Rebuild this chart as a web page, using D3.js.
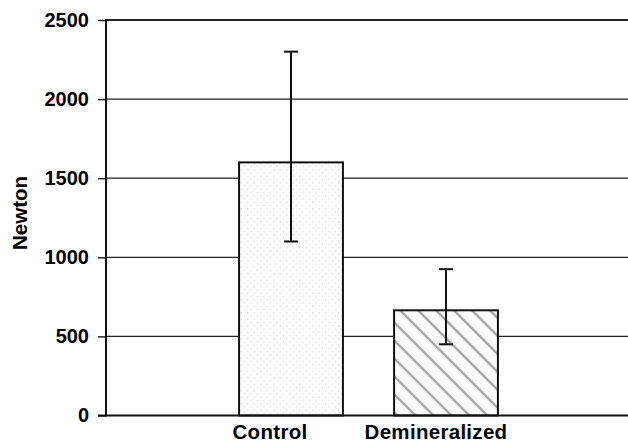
<!DOCTYPE html>
<html>
<head>
<meta charset="utf-8">
<script src="https://cdn.jsdelivr.net/npm/d3@7"></script>
<style>
  body { margin: 0; background: #fff; }
  text { font-family: "Liberation Sans", Arial, sans-serif; font-weight: bold; }
</style>
</head>
<body>
<svg id="chart"></svg>
<script>
var categories = ["Control", "Demineralized"];
var means = [1600, 665];
var errLow = [1100, 450];
var errHigh = [2300, 925];
var yTicks = [0, 500, 1000, 1500, 2000, 2500];
var labelShift = [-21, -10];

var width = 628, height = 444;
var svg = d3.select("#chart").attr("width", width).attr("height", height);

var plotLeft = 106, plotRight = 628, plotTop = 20, plotBottom = 415.5;

var y = d3.scaleLinear().domain([0, 2500]).range([plotBottom, plotTop]);
var x = d3.scaleBand()
    .domain(categories)
    .range([213.5, 523.5])
    .paddingInner(0.33)
    .paddingOuter(0.165);

var defs = svg.append("defs");
var dots = defs.append("pattern")
    .attr("id", "dots")
    .attr("patternUnits", "userSpaceOnUse")
    .attr("width", 6.5).attr("height", 6.5);
dots.append("rect").attr("width", 6.5).attr("height", 6.5).attr("fill", "#fff");
dots.append("rect").attr("x", 0).attr("y", 0).attr("width", 1.5).attr("height", 1.5).attr("fill", "#dcdcdc");
dots.append("rect").attr("x", 3.25).attr("y", 3.25).attr("width", 1.5).attr("height", 1.5).attr("fill", "#dcdcdc");

var hatch = defs.append("pattern")
    .attr("id", "hatch")
    .attr("patternUnits", "userSpaceOnUse")
    .attr("width", 12.7).attr("height", 12.7)
    .attr("patternTransform", "rotate(45)");
hatch.append("rect").attr("width", 12.7).attr("height", 12.7).attr("fill", "#fbfbfb");
hatch.append("line").attr("x1", 0).attr("y1", 0).attr("x2", 12.7).attr("y2", 0)
    .attr("stroke", "#a4a4a4").attr("stroke-width", 2.4);
hatch.append("line").attr("x1", 0).attr("y1", 12.7).attr("x2", 12.7).attr("y2", 12.7)
    .attr("stroke", "#a4a4a4").attr("stroke-width", 2.4);

var fills = ["url(#dots)", "url(#hatch)"];

// gridlines
svg.append("g").selectAll("line")
  .data(yTicks.filter(function(d) { return d > 0; }))
  .enter().append("line")
    .attr("x1", plotLeft).attr("x2", plotRight)
    .attr("y1", function(d) { return y(d); })
    .attr("y2", function(d) { return y(d); })
    .attr("stroke", "#222")
    .attr("stroke-width", function(d) { return d === 2500 ? 2 : 1.3; });

// y axis
var yAxis = d3.axisLeft(y).tickValues(yTicks).tickFormat(d3.format("d")).tickSize(8).tickPadding(9);
var ga = svg.append("g").attr("transform", "translate(" + plotLeft + ",0)").call(yAxis);
ga.select(".domain").remove();
ga.selectAll(".tick line").attr("stroke", "#222").attr("stroke-width", 1.5);
ga.selectAll(".tick text").attr("font-size", 20).attr("fill", "#000")
  .attr("font-family", "Liberation Sans, Arial, sans-serif").attr("font-weight", "bold");
svg.append("line")
    .attr("x1", plotLeft).attr("x2", plotLeft)
    .attr("y1", plotTop - 1).attr("y2", plotBottom + 1)
    .attr("stroke", "#111").attr("stroke-width", 2);

// bars
svg.append("g").selectAll("rect")
  .data(categories)
  .enter().append("rect")
    .attr("x", function(d) { return x(d); })
    .attr("width", x.bandwidth())
    .attr("y", function(d, i) { return y(means[i]); })
    .attr("height", function(d, i) { return y(0) - y(means[i]); })
    .attr("fill", function(d, i) { return fills[i]; })
    .attr("stroke", "#111")
    .attr("stroke-width", 2);

// baseline
svg.append("line")
    .attr("x1", plotLeft - 8).attr("x2", plotRight)
    .attr("y1", plotBottom).attr("y2", plotBottom)
    .attr("stroke", "#111").attr("stroke-width", 2.2);

// error bars
var eb = svg.append("g").selectAll("g")
  .data(categories)
  .enter().append("g")
    .attr("transform", function(d) { return "translate(" + (x(d) + x.bandwidth() / 2) + ",0)"; });
eb.append("line")
    .attr("y1", function(d, i) { return y(errLow[i]); })
    .attr("y2", function(d, i) { return y(errHigh[i]); })
    .attr("stroke", "#111").attr("stroke-width", 2);
eb.append("line")
    .attr("x1", -7).attr("x2", 7)
    .attr("y1", function(d, i) { return y(errLow[i]); })
    .attr("y2", function(d, i) { return y(errLow[i]); })
    .attr("stroke", "#111").attr("stroke-width", 2);
eb.append("line")
    .attr("x1", -7).attr("x2", 7)
    .attr("y1", function(d, i) { return y(errHigh[i]); })
    .attr("y2", function(d, i) { return y(errHigh[i]); })
    .attr("stroke", "#111").attr("stroke-width", 2);

// category labels
svg.append("g").selectAll("text")
  .data(categories)
  .enter().append("text")
    .attr("x", function(d, i) { return x(d) + x.bandwidth() / 2 + labelShift[i]; })
    .attr("y", 439)
    .attr("text-anchor", "middle")
    .attr("font-size", 20.5)
    .attr("letter-spacing", 0.3)
    .text(function(d) { return d; });

// y title
svg.append("text")
    .attr("transform", "translate(27,213) rotate(-90)")
    .attr("text-anchor", "middle")
    .attr("font-size", 20.5)
    .text("Newton");
</script>
</body>
</html>
